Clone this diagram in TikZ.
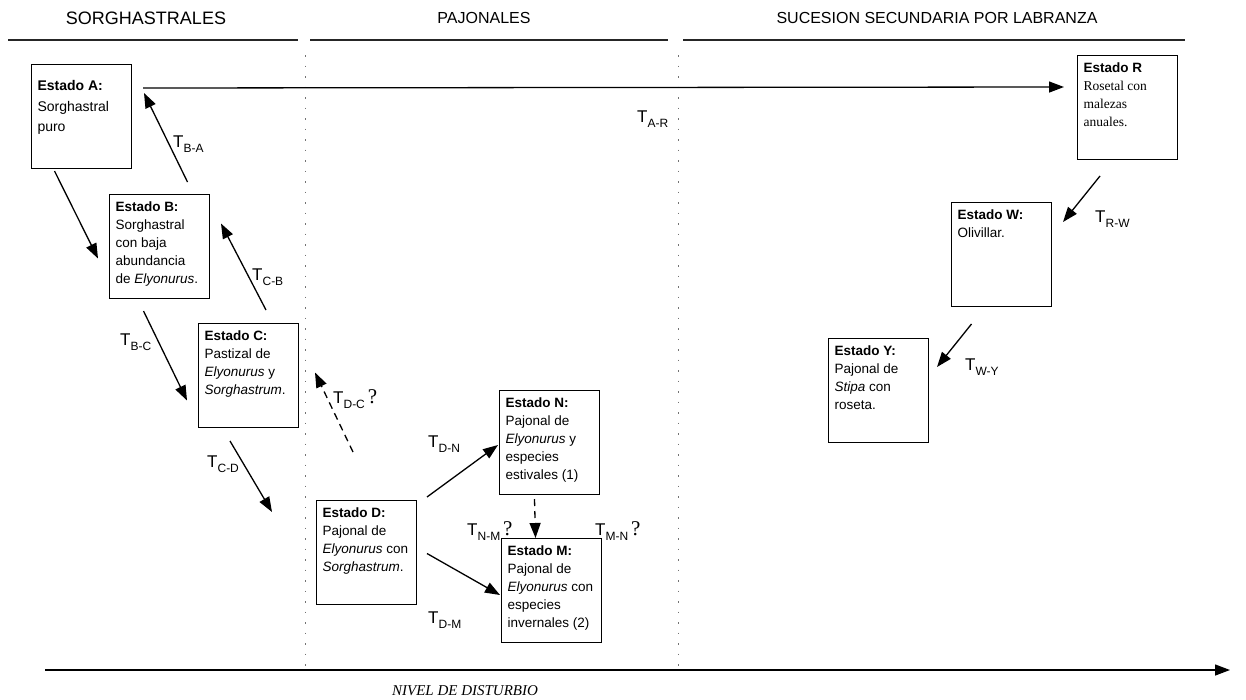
\documentclass[tikz,border=0pt]{standalone}
\usepackage{fontspec}
\setmainfont{Liberation Sans}
\newfontfamily\tnr{Liberation Serif}
\usetikzlibrary{arrows.meta,calc}
\newcommand{\stxt}[1]{\parbox[t][90pt][t]{88pt}{\raggedright #1}}
\newcommand{\tsub}[1]{\raisebox{-0.35em}{\fontsize{12}{12}\selectfont #1}}
\newcommand{\qmark}{\,{\tnr\fontsize{21}{21}\selectfont ?}}

\begin{document}
\begin{tikzpicture}[x=1pt,y=-1pt,
  every node/.style={font=\fontsize{13.5}{18}\selectfont},
  estado/.style={draw,line width=1pt,anchor=north west,inner xsep=6pt,inner ysep=7pt},
  head/.style={font=\fontsize{16}{16}\selectfont},
  tlab/.style={anchor=base west,inner sep=0pt,font=\fontsize{17}{17}\selectfont},
  ar/.style={-{Triangle[length=15pt,width=11pt]},line width=1.3pt},
  dar/.style={ar,dash pattern=on 7pt off 5pt},
  sect/.style={line width=1.4pt,black!85},
  sepl/.style={black!55,line width=0.7pt,dash pattern=on 1.5pt off 9pt}]
\useasboundingbox (0,0) rectangle (1246,699);
\node[head,font=\fontsize{18}{18}\selectfont] (h1) at (146,18) {SORGHASTRALES};
\node[head] (h2) at (484,18) {PAJONALES};
\node[head] (h3) at (937,18) {SUCESION SECUNDARIA POR LABRANZA};
\foreach \a/\b in {8/298,310/668,683/1185} \draw[sect] (\a,40) -- (\b,40);
\foreach \x in {305,678} \draw[sepl] (\x,55) -- (\x,668);
\node[estado] (A) at (31,64) {\stxt{\vspace*{9pt}\fontsize{14}{20.5}\selectfont\textbf{Estado A:}\\Sorghastral\\puro}};
\node[estado] (B) at (109,194) {\stxt{\textbf{Estado B:}\\Sorghastral\\con baja\\abundancia\\de \textit{Elyonurus}.}};
\node[estado] (C) at (198,323) {\stxt{\textbf{Estado C:}\\Pastizal de\\\textit{Elyonurus} y\\\textit{Sorghastrum}.}};
\node[estado] (D) at (316,500) {\stxt{\textbf{Estado D:}\\Pajonal de\\\textit{Elyonurus} con\\\textit{Sorghastrum}.}};
\node[estado] (N) at (499,390) {\stxt{\textbf{Estado N:}\\Pajonal de\\\textit{Elyonurus} y\\especies\\estivales (1)}};
\node[estado] (M) at (501,538) {\stxt{\textbf{Estado M:}\\Pajonal de\\\textit{Elyonurus} con\\especies\\invernales (2)}};
\node[estado] (R) at (1077,55) {\stxt{\textbf{Estado R}\\{\tnr Rosetal con\\malezas\\anuales.}}};
\node[estado] (W) at (951,202) {\stxt{\textbf{Estado W:}\\Olivillar.}};
\node[estado] (Y) at (828,338) {\stxt{\textbf{Estado Y:}\\Pajonal de\\\textit{Stipa} con\\roseta.}};
\draw[ar] ($(A.south)+(-27,2)$) -- ($(B.west)+(-11,12)$);
\draw[ar] ($(B.north)+(28,-12)$) -- ($(A.north east)+(12,29)$);
\draw[ar] ($(B.south)+(-16,12)$) -- ($(C.west)+(-11,25)$);
\draw[ar] ($(C.north)+(17.5,-13)$) -- ($(B.east)+(11,-23)$);
\draw[ar] ($(C.south)+(-18.5,13)$) -- ($(D.north west)+(-44,12)$);
\draw[dar] ($(D.north)+(-13.5,-48)$) -- ($(C.east)+(16,-3)$);
\draw[ar] ($(D.north east)+(10,-3)$) -- ($(N.west)+(-1,2.5)$);
\draw[ar] ($(D.east)+(10,1)$) -- ($(M.west)+(-1,4.5)$);
\draw[dar] ($(N.south)+(-15,4)$) -- ($(M.north)+(-16,0)$);
\draw[ar] ($(A.north east)+(11,24)$) -- ($(R.north west)+(-13,32)$);
\draw[ar] ($(R.south)+(-27.5,16)$) -- ($(W.north east)+(11,20)$);
\draw[ar] ($(W.south)+(-30,17)$) -- ($(Y.north east)+(8,29)$);
\node[tlab] (tAR) at (637,122) {T\tsub{A-R}};
\node[tlab] (tBA) at (173,147) {T\tsub{B-A}};
\node[tlab] (tCB) at (252,280) {T\tsub{C-B}};
\node[tlab] (tBC) at (120,345) {T\tsub{B-C}};
\node[tlab] (tCD) at (207,467) {T\tsub{C-D}};
\node[tlab] (tDC) at (333,403) {T\tsub{D-C}\qmark};
\node[tlab] (tDN) at (428,447) {T\tsub{D-N}};
\node[tlab] (tDM) at (428,623) {T\tsub{D-M}};
\node[tlab] (tNM) at (467,535) {T\tsub{N-M}\qmark};
\node[tlab] (tMN) at (595,535) {T\tsub{M-N}\qmark};
\node[tlab] (tRW) at (1095,222) {T\tsub{R-W}};
\node[tlab] (tWY) at (965,370) {T\tsub{W-Y}};
\coordinate (ax0) at (45,670);
\coordinate (ax1) at (1230,670);
\draw[ar,line width=1.4pt] (ax0) -- (ax1);
\node[font=\tnr\itshape\fontsize{15}{15}\selectfont] (nivel) at (465,691) {NIVEL DE DISTURBIO};
\end{tikzpicture}
\end{document}
